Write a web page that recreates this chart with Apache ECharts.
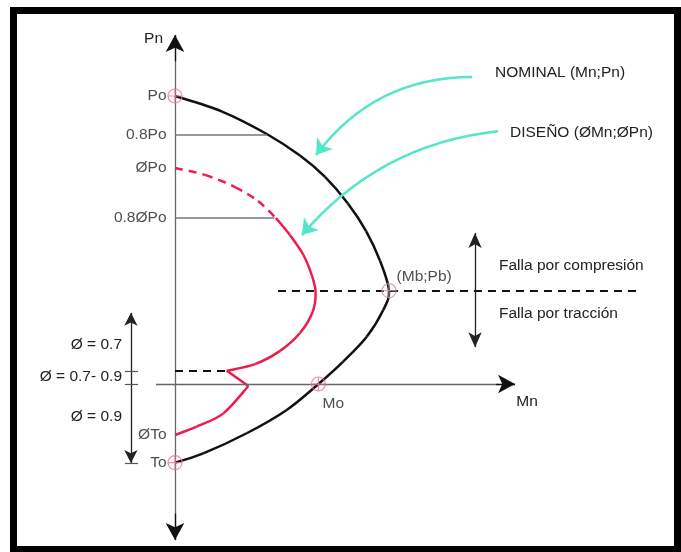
<!DOCTYPE html>
<html>
<head>
<meta charset="utf-8">
<script src="https://cdn.jsdelivr.net/npm/echarts@6/dist/echarts.min.js"></script>
<style>
  html, body { margin: 0; padding: 0; background: #fff; }
  #chart { width: 681px; height: 552px; }
</style>
</head>
<body>
<div id="chart"></div>
<script>
// Diagrama de interacción, Mn en % de Mb y Pn en % de Po
// curva nominal (Mn;Pn)
const nominalMn = [0, 22.0, 42.9, 58.4, 70.1, 80.8, 89.3, 95.8, 100, 97.3, 89.6, 78.6, 67.0, 52.2, 33.5, 13.2, 0];
const nominalPn = [100, 94.6, 86.8, 79.3, 71.9, 62.7, 53.1, 42.8, 32.4, 25.7, 16.4, 7.8, 0, -9.0, -17.1, -24.1, -27.3];
// curva de diseño (ØMn;ØPn): tramo discontinuo, tramo superior, quiebre, tramo inferior
const disDashMn = [0, 14.0, 28.0, 38.8, 47.2];
const disDashPn = [75.0, 72.6, 68.4, 63.5, 57.6];
const disTopMn = [47.2, 53.7, 60.0, 63.9, 65.7, 64.3, 58.4, 49.1, 37.4, 24.2];
const disTopPn = [57.6, 51.7, 44.8, 37.8, 31.9, 25.0, 17.7, 11.5, 6.9, 4.6];
const disKinkMn = [24.2, 34.3];
const disKinkPn = [4.6, -0.7];
const disLowMn = [34.3, 22.6, 10.1, 0];
const disLowPn = [-0.7, -10.2, -14.8, -17.7];
// etiquetas del eje Pn
const tickLabels = ['Po', '0.8Po', 'ØPo', '0.8ØPo', 'ØTo', 'To'];
const tickValues = [100, 86.5, 75.0, 57.7, -17.7, -27.3];
// puntos notables
const pointNames = ['Po', '(Mb;Pb)', 'Mo', 'To'];
const pointMn = [0, 100, 67.0, 0];
const pointPn = [100, 32.4, 0, -27.3];
// límites
const pb = 32.4;
const phiChange = 4.6;

const zip = (xs, ys) => xs.map((x, i) => [x, ys[i]]);
const FONT = 'Liberation Sans, Arial, sans-serif';
const FS = 15.5;
const RED = '#ee1b4e';
const CYAN = '#55e5c8';

const chart = echarts.init(document.getElementById('chart'));

// curva suave (Catmull-Rom) que pasa por los puntos leídos
function curveSeries(xs, ys, color, dash) {
  return {
    type: 'custom', coordinateSystem: 'cartesian2d', silent: true, z: 3,
    data: [[xs[0], ys[0]]],
    renderItem: (params, api) => {
      const p = xs.map((x, i) => api.coord([x, ys[i]]));
      const children = [];
      for (let i = 0; i < p.length - 1; i++) {
        const p0 = p[i - 1] || p[i], p1 = p[i], p2 = p[i + 1], p3 = p[i + 2] || p[i + 1];
        const k = p.length > 2 ? 6 : 1e9;
        children.push({
          type: 'bezierCurve',
          shape: {
            x1: p1[0], y1: p1[1], x2: p2[0], y2: p2[1],
            cpx1: p1[0] + (p2[0] - p0[0]) / k, cpy1: p1[1] + (p2[1] - p0[1]) / k,
            cpx2: p2[0] - (p3[0] - p1[0]) / k, cpy2: p2[1] - (p3[1] - p1[1]) / k
          },
          style: { fill: 'none', stroke: color, lineWidth: 2.5, lineDash: dash || null, lineCap: 'butt' }
        });
      }
      return { type: 'group', children: children };
    }
  };
}

function marks(lines, style, z) {
  return {
    type: 'line', data: [], silent: true, z: z || 2,
    markLine: {
      silent: true, animation: false, symbol: 'none',
      label: { show: false }, emphasis: { disabled: true },
      lineStyle: style,
      data: lines
    }
  };
}
const pt = (x, y, sym, size) => sym ? { coord: [x, y], symbol: sym, symbolSize: size } : { coord: [x, y], symbol: 'none' };
const txt = (x, y, text, align) => ({
  type: 'text', x: x, y: y,
  style: { text: text, align: align, verticalAlign: 'middle', font: FS + 'px ' + FONT, fill: '#222' }
});
const AX = [14, 17];

const option = {
  backgroundColor: '#fff',
  animation: false,
  grid: { left: 3.8, top: 24, width: 663.4, height: 518.4 },
  xAxis: { type: 'value', min: -80, max: 230, show: false },
  yAxis: { type: 'value', min: -55, max: 125, show: false },
  graphic: [
    { type: 'rect', shape: { x: 13.5, y: 10.5, width: 664, height: 539 },
      style: { fill: 'none', stroke: '#000', lineWidth: 7 }, z: 100 },
    txt(163, 39, 'Pn', 'right'),
    txt(527, 402, 'Mn', 'center'),
    txt(495, 73, 'NOMINAL (Mn;Pn)', 'left'),
    txt(510, 133, 'DISEÑO (ØMn;ØPn)', 'left'),
    txt(499, 266, 'Falla por compresión', 'left'),
    txt(499, 314, 'Falla por tracción', 'left'),
    txt(122, 345, 'Ø = 0.7', 'right'),
    txt(122, 377, 'Ø = 0.7- 0.9', 'right'),
    txt(122, 417, 'Ø = 0.9', 'right')
  ],
  series: [
    // ejes Pn y Mn
    marks([
      [pt(0, -54.2), pt(0, 121.2)],
      [pt(-8.9, 0), pt(158.9, 0)]
    ], { color: '#666', width: 1.3, type: 'solid' }, 1),
    // puntas de flecha de los ejes
    marks([
      [pt(0, 112), pt(0, 121.2, 'arrow', AX)],
      [pt(0, -45), pt(0, -54.2, 'arrow', AX)],
      [pt(150, 0), pt(158.9, 0, 'arrow', AX)]
    ], { color: '#111', width: 1.3, type: 'solid' }, 2),
    // líneas 0.8Po y 0.8ØPo
    marks([
      [pt(0, tickValues[1]), pt(42.9, tickValues[1])],
      [pt(0, tickValues[3]), pt(46.5, tickValues[3])]
    ], { color: '#777', width: 1.5, type: 'solid' }, 1),
    // límite balanceado y cambio de Ø
    marks([
      [pt(48.1, pb), pt(215.9, pb)],
      [pt(0, phiChange), pt(24.2, phiChange)]
    ], { color: '#111', width: 2.2, type: [8, 6] }, 2),
    // flechas dobles
    marks([
      [pt(-20.6, -27.4, 'arrow', [10, 13]), pt(-20.6, 24.7, 'arrow', [10, 13])],
      [pt(140.2, 12.8, 'arrow', [10, 15]), pt(140.2, 52.4, 'arrow', [10, 15])]
    ], { color: '#222', width: 1.3, type: 'solid' }, 2),
    // marcas de la flecha izquierda
    marks([
      [pt(-23.4, phiChange), pt(-17.3, phiChange)],
      [pt(-23.4, 0), pt(-17.3, 0)],
      [pt(-23.4, -27.4), pt(-17.3, -27.4)]
    ], { color: '#555', width: 1.2, type: 'solid' }, 2),
    // flechas cian
    {
      type: 'lines', coordinateSystem: 'cartesian2d', silent: true, z: 4,
      symbol: ['none', 'arrow'], symbolSize: [12, 15],
      lineStyle: { color: CYAN, width: 2.5, opacity: 1, curveness: -0.25 },
      data: [
        { coords: [[138.8, 106.6], [65.9, 79.5]] },
        { coords: [[150.9, 87.8], [59.3, 51.7]], lineStyle: { curveness: -0.2 } }
      ]
    },
    curveSeries(nominalMn, nominalPn, '#111'),
    curveSeries(disDashMn, disDashPn, RED, [8, 6]),
    curveSeries(disTopMn, disTopPn, RED),
    curveSeries(disKinkMn, disKinkPn, RED),
    curveSeries(disLowMn, disLowPn, RED),
    // etiquetas del eje Pn
    {
      type: 'scatter', silent: true, z: 5, symbolSize: 1,
      itemStyle: { color: 'transparent' },
      data: zip(tickValues.map(() => 0), tickValues),
      label: {
        show: true, position: 'left', distance: 8,
        fontFamily: FONT, fontSize: FS, color: '#222',
        formatter: p => tickLabels[p.dataIndex]
      }
    },
    // puntos notables
    {
      type: 'scatter', silent: true, z: 6, symbolSize: 14,
      symbol: 'path://M10,0A10,10,0,1,1,10,20A10,10,0,1,1,10,0ZM10,0L10,20M0,10L20,10',
      itemStyle: { color: 'transparent', borderColor: '#ee6f8d', borderWidth: 1.2 },
      data: zip(pointMn, pointPn).map((d, i) => ({
        value: d,
        itemStyle: i === 1 ? { borderColor: '#c49aa3' } : undefined,
        label: i === 1 ? { show: true, position: 'right', distance: 0, offset: [0, -14] }
             : i === 2 ? { show: true, position: 'bottom', distance: 4, offset: [15, 0] }
             : { show: false }
      })),
      label: {
        fontFamily: FONT, fontSize: FS, color: '#222',
        formatter: p => pointNames[p.dataIndex]
      }
    }
  ]
};

chart.setOption(option);
</script>
</body>
</html>
